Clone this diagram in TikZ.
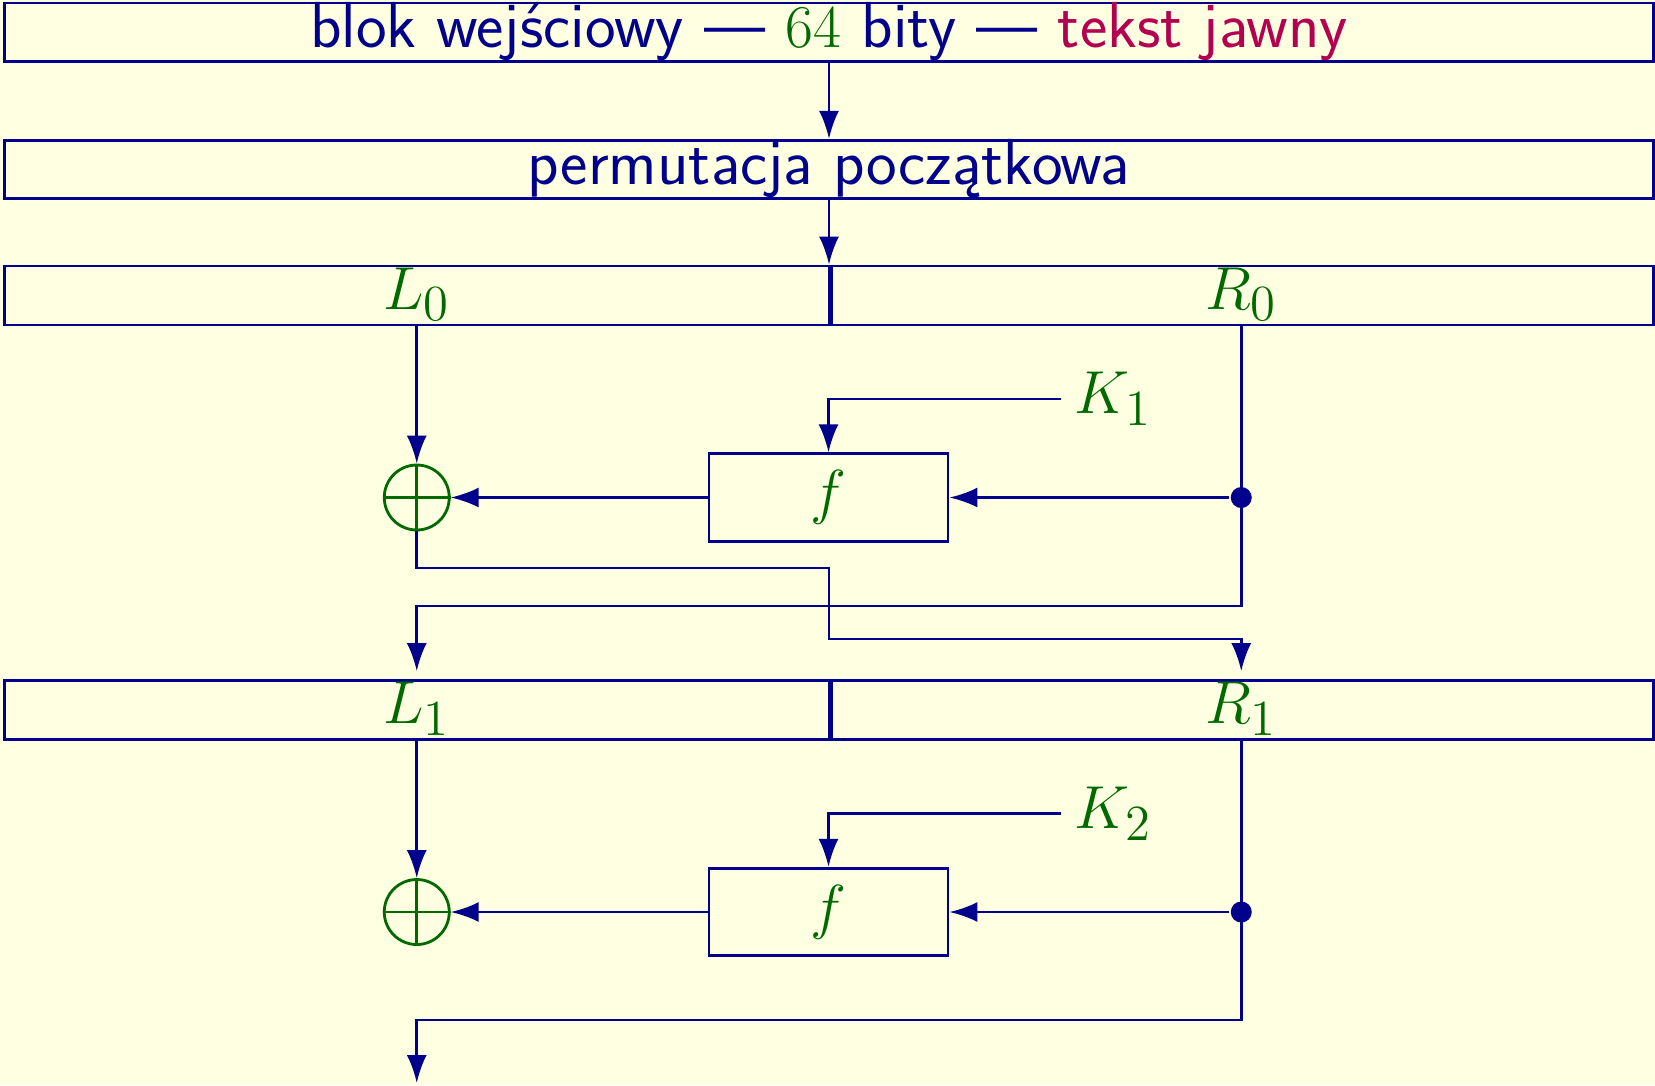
\documentclass[tikz,border=0pt]{standalone}
\usepackage{fontspec}
\usepackage{tikz}
\usetikzlibrary{arrows.meta}

\definecolor{desblue}{RGB}{0,0,140}
\definecolor{desgreen}{RGB}{0,105,0}
\definecolor{desred}{RGB}{180,0,80}
\definecolor{slidebg}{RGB}{255,255,225}

\newcommand{\mathsize}{\fontsize{18.9}{22}\selectfont}

\tikzset{
    block/.style = {draw=desblue, rectangle, inner sep=0pt, text=desblue,
                    minimum width=16.49cm, minimum height=0.585cm,
                    text height=0.44cm, text depth=0.145cm},
    half/.style  = {draw=desblue, rectangle, inner sep=0pt, text=desgreen, font=\mathsize,
                    minimum width=8.245cm, minimum height=0.59cm,
                    text height=0.43cm, text depth=0.16cm},
    fbox/.style  = {draw=desblue, rectangle, inner sep=0pt, text=desgreen, font=\mathsize,
                    minimum width=2.39cm, minimum height=0.875cm},
    xor/.style   = {draw=desgreen, circle, inner sep=0pt, minimum size=0.65cm},
    tap/.style   = {fill=desblue, circle, inner sep=0pt, minimum size=0.21cm},
    key/.style   = {anchor=west, inner sep=0.12cm, text=desgreen, font=\mathsize},
    flow/.style  = {draw=desblue, -{Latex[length=0.28cm, width=0.2cm]}},
}

\begin{document}
\begin{tikzpicture}[line width=0.8pt, font=\fontsize{18.5}{22}\selectfont\sffamily]
                \fill[slidebg] (0,0) rectangle (16.55,-10.85);
                \useasboundingbox (0,0) rectangle (16.55,-10.85);

                \draw
                    ( 8.29,   -0.3225) node[block](input){blok wejściowy — {\color{desgreen}$64$} bity — {\color{desred}tekst jawny}}
                    ( 8.29,   -1.695)  node[block](perm){permutacja początkowa}

                    % pierwsza runda
                    ( 4.1675, -2.955)  node[half](L0){$L_0$}
                    (12.4125, -2.955)  node[half](R0){$R_0$}
                    (10.61,   -3.99)   node[key](k1){$K_1$}
                    ( 8.285,  -4.975)  node[fbox](f1){$f$}
                    ( 4.1675, -4.975)  node[xor](xor1){}
                    (12.4125, -4.975)  node[tap](tap1){}

                    % druga runda
                    ( 4.1675, -7.10)   node[half](L1){$L_1$}
                    (12.4125, -7.10)   node[half](R1){$R_1$}
                    (10.61,   -8.135)  node[key](k2){$K_2$}
                    ( 8.285,  -9.12)   node[fbox](f2){$f$}
                    ( 4.1675, -9.12)   node[xor](xor2){}
                    (12.4125, -9.12)   node[tap](tap2){}
                ;
                \coordinate (turn1) at (12.4125, -6.06);
                \coordinate (mid1)  at ( 8.29,   -5.68);
                \coordinate (cross1) at ( 8.29,  -6.39);
                \coordinate (turn2) at (12.4125, -10.20);
                \coordinate (out)   at ( 4.1675, -10.83);

                % podzial na L i R
                \draw [desblue, line width=1.4pt] (L0.north east) -- (L0.south east);
                \draw [desblue, line width=1.4pt] (L1.north east) -- (L1.south east);
                \draw [desgreen] (xor1.north) -- (xor1.south) (xor1.west) -- (xor1.east);
                \draw [desgreen] (xor2.north) -- (xor2.south) (xor2.west) -- (xor2.east);

                \draw [flow] (input) -- (perm);
                \draw [flow] (perm)  -- (perm |- L0.north);

                \draw [flow] (L0)    -- (xor1);
                \draw [flow] (f1)    -- (xor1);
                \draw [flow] (tap1)  -- (f1);
                \draw [flow] (k1.west) -| (f1);
                \draw [flow, shorten >=0.08cm] (R0.south) -- (turn1) -| (L1.north);
                \draw [flow, shorten >=0.08cm] (xor1.south) |- (mid1) -- (cross1) -| (R1.north);

                \draw [flow] (L1)    -- (xor2);
                \draw [flow] (f2)    -- (xor2);
                \draw [flow] (tap2)  -- (f2);
                \draw [flow] (k2.west) -| (f2);
                \draw [flow] (R1.south) -- (turn2) -| (out);
            \end{tikzpicture}
\end{document}
